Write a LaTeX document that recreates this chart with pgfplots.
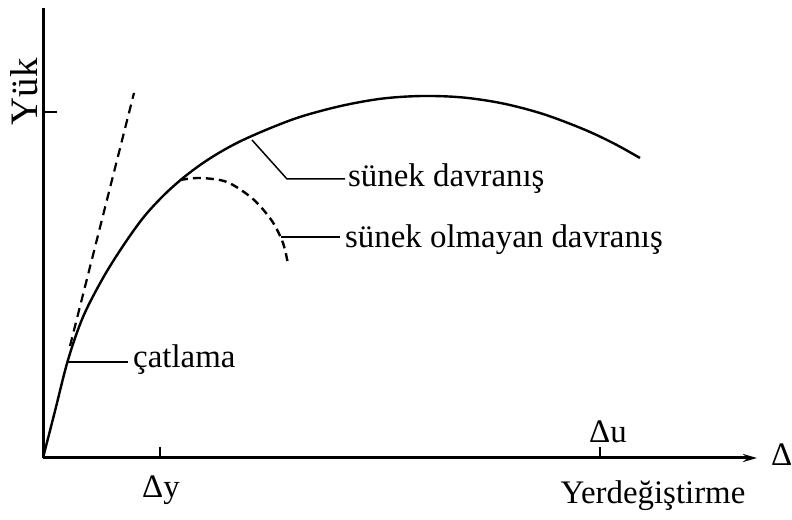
\documentclass[border=0pt]{standalone}
\usepackage{fontspec}
\setmainfont{Liberation Serif}
\usepackage{pgfplots}
\pgfplotsset{compat=1.18}
\usetikzlibrary{arrows.meta}

\begin{document}
\begin{tikzpicture}[font=\fontsize{33}{39}\selectfont]
\begin{axis}[
  x=1bp, y=1bp,
  xmin=-43, xmax=749, ymin=-62, ymax=458,
  hide axis, clip=false,
]
% load--displacement curves
\addplot[black, line width=2.4bp, smooth, tension=0.55] coordinates {
  (0,0) (12,47) (25,98) (40,141) (60,180) (80,212) (100,240) (120,262)
  (140,280) (160,295) (180,307.5) (200,318) (230,331) (260,342) (300,352.5)
  (340,359.5) (380,362) (420,360.5) (460,354.5) (500,344) (540,329)
  (570,315) (597,300)
};
\addplot[black, line width=2.4bp, dash pattern=on 8bp off 5bp, smooth, tension=0.5] coordinates {
  (137,278) (157,280) (184,276) (210,259) (229,237) (240,215) (245,194)
};
% initial stiffness line
\addplot[black, line width=2.2bp, dash pattern=on 9bp off 6bp] coordinates {
  (27,112) (91,365)
};

% axes
\draw[line width=3bp, -{Stealth[length=14bp,width=8bp]}] (axis cs:0,0) -- (axis cs:714,0);
\draw[line width=3bp] (axis cs:0,0) -- (axis cs:0,450);
\draw[line width=1.5bp] (axis cs:0,346) -- (axis cs:14,346);
\draw[line width=1.5bp] (axis cs:117,0) -- (axis cs:117,11);
\draw[line width=1.5bp] (axis cs:557,0) -- (axis cs:557,11);

% leaders
\draw[line width=1.5bp] (axis cs:25,96) -- (axis cs:85,96);
\draw[line width=1.5bp] (axis cs:209,318) -- (axis cs:244,279) -- (axis cs:302,279);
\draw[line width=1.5bp] (axis cs:238,221) -- (axis cs:297,221);

% labels
\node[anchor=west, inner sep=0] at (axis cs:90,98) {çatlama};
\node[anchor=west, inner sep=0] at (axis cs:305,279) {sünek davranış};
\node[anchor=west, inner sep=0] at (axis cs:302,218) {sünek olmayan davranış};
\node[rotate=90, font=\fontsize{39}{45}\selectfont] at (axis cs:-19,366) {Yük};
\node at (axis cs:118,-32) {Δy};
\node at (axis cs:565,26) {Δu};
\node at (axis cs:610,-38) {Yerdeğiştirme};
\node[anchor=west, inner sep=0] at (axis cs:728,3) {Δ};

\coordinate (BL) at (axis cs:-43,-62);
\coordinate (TR) at (axis cs:749,458);
\end{axis}
\pgfresetboundingbox
\useasboundingbox (BL) rectangle (TR);
\end{tikzpicture}
\end{document}
